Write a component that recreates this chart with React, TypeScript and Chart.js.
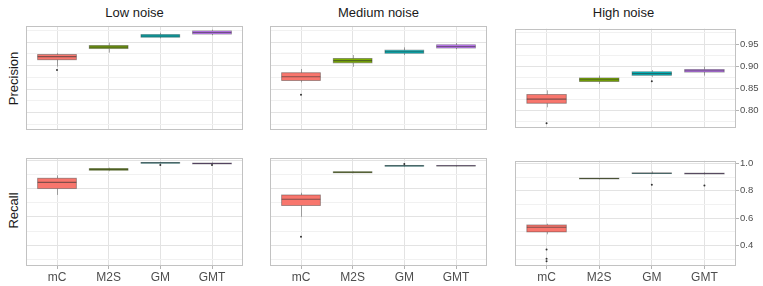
import React, { useEffect, useRef } from 'react';
import { Chart, registerables } from 'chart.js';
Chart.register(...registerables);

const methods = ['mC', 'M2S', 'GM', 'GMT'];
const noiseLevels = ['Low noise', 'Medium noise', 'High noise'];
const metrics = ['Precision', 'Recall'];
const methodColors = ['#F8766D', '#7CAE00', '#00BFC4', '#C77CFF'];

// each entry: [lower whisker, Q1, median, Q3, upper whisker]
const precisionLow = [
  [0.8979, 0.9125, 0.9191, 0.9236, 0.927],
  [0.9276, 0.9363, 0.9395, 0.9429, 0.9488],
  [0.9581, 0.9607, 0.9633, 0.9661, 0.97],
  [0.9647, 0.9673, 0.9706, 0.974, 0.9766],
];
const precisionMedium = [
  [0.8642, 0.8682, 0.8761, 0.8848, 0.8927],
  [0.8973, 0.9058, 0.9106, 0.9151, 0.9225],
  [0.9225, 0.9264, 0.9296, 0.933, 0.9389],
  [0.9349, 0.9375, 0.9409, 0.9443, 0.9482],
];
const precisionHigh = [
  [0.8075, 0.8166, 0.8259, 0.8364, 0.8457],
  [0.8602, 0.8656, 0.8695, 0.8735, 0.879],
  [0.8755, 0.8795, 0.8834, 0.8874, 0.8913],
  [0.879, 0.8868, 0.8897, 0.8927, 0.8993],
];
const recallLow = [
  [0.757, 0.8023, 0.8462, 0.8758, 0.8964],
  [0.926, 0.9328, 0.939, 0.9445, 0.9513],
  [0.98, 0.983, 0.9857, 0.988, 0.99],
  [0.975, 0.978, 0.981, 0.984, 0.987],
];
const recallMedium = [
  [0.601, 0.6814, 0.7267, 0.757, 0.7727],
  [0.912, 0.915, 0.919, 0.922, 0.925],
  [0.959, 0.962, 0.965, 0.967, 0.97],
  [0.96, 0.963, 0.965, 0.967, 0.969],
];
const recallHigh = [
  [0.4822, 0.4999, 0.5344, 0.5509, 0.5598],
  [0.884, 0.887, 0.8895, 0.892, 0.894],
  [0.922, 0.926, 0.9287, 0.931, 0.9424],
  [0.92, 0.923, 0.926, 0.929, 0.935],
];

const precisionLowOutliers = [[0.8907], [], [], []];
const precisionMediumOutliers = [[0.8378], [], [], []];
const precisionHighOutliers = [[0.7718], [], [0.866], []];
const recallLowOutliers = [[], [], [0.9699], [0.9699]];
const recallMediumOutliers = [[0.4589], [], [0.9767], []];
const recallHighOutliers = [[0.3723, 0.3037, 0.2851], [], [0.8435], [0.8394]];

const precisionRange = [0.7625, 0.9845];
const recallRange = [0.251, 1.02];
const precisionMajorTicks = [0.8, 0.85, 0.9, 0.95];
const precisionMinorTicks = [0.775, 0.825, 0.875, 0.925, 0.975];
const recallMajorTicks = [0.4, 0.6, 0.8, 1.0];
const recallMinorTicks = [0.3, 0.5, 0.7, 0.9];

const FONT = '"Liberation Sans", Arial, Helvetica, sans-serif';
const PANEL_W = 225;
const PANEL_H = 112;
const COL_LEFT = [22, 266, 511];
const ROW_TOP = [22, 154];
const AXIS_W = 27;
const XAXIS_H = 20;
const BOX_HALF = 0.375;

type PanelProps = {
  stats: number[][];
  outliers: number[][];
  range: number[];
  majors: number[];
  minors: number[];
  decimals: number;
  showX: boolean;
  showY: boolean;
  left: number;
  top: number;
};

const isMajor = (v: number, majors: number[]) => majors.some((m) => Math.abs(m - v) < 1e-6);

const boxPlugin = {
  id: 'boxParts',
  beforeDatasetsDraw(chart: any) {
    const stats: number[][] = chart.config.options.plugins.boxParts.stats;
    const xs = chart.scales.x;
    const ys = chart.scales.y;
    const ctx = chart.ctx;
    ctx.save();
    ctx.beginPath();
    ctx.rect(chart.chartArea.left, chart.chartArea.top, chart.chartArea.width, chart.chartArea.height);
    ctx.clip();
    ctx.strokeStyle = 'rgba(51,51,51,0.4)';
    ctx.lineWidth = 1;
    stats.forEach((s, i) => {
      const x = Math.round(xs.getPixelForValue(i + 1)) + 0.5;
      ctx.beginPath();
      ctx.moveTo(x, ys.getPixelForValue(s[0]));
      ctx.lineTo(x, ys.getPixelForValue(s[1]));
      ctx.moveTo(x, ys.getPixelForValue(s[3]));
      ctx.lineTo(x, ys.getPixelForValue(s[4]));
      ctx.stroke();
    });
    ctx.restore();
  },
  afterDatasetsDraw(chart: any) {
    const stats: number[][] = chart.config.options.plugins.boxParts.stats;
    const xs = chart.scales.x;
    const ys = chart.scales.y;
    const ctx = chart.ctx;
    ctx.save();
    stats.forEach((s, i) => {
      const x0 = xs.getPixelForValue(i + 1 - BOX_HALF);
      const x1 = xs.getPixelForValue(i + 1 + BOX_HALF);
      const yTop = ys.getPixelForValue(s[3]);
      const yBot = ys.getPixelForValue(s[1]);
      ctx.strokeStyle = 'rgba(51,51,51,0.45)';
      ctx.lineWidth = 0.9;
      ctx.strokeRect(x0, yTop, x1 - x0, yBot - yTop);
      const y = ys.getPixelForValue(s[2]);
      ctx.strokeStyle = 'rgba(51,51,51,0.6)';
      ctx.lineWidth = 1.1;
      ctx.beginPath();
      ctx.moveTo(x0, y);
      ctx.lineTo(x1, y);
      ctx.stroke();
    });
    const a = chart.chartArea;
    ctx.strokeStyle = '#c2c2c2';
    ctx.lineWidth = 1;
    ctx.strokeRect(Math.round(a.left) + 0.5, Math.round(a.top) + 0.5, Math.round(a.width) - 1, Math.round(a.height) - 1);
    ctx.restore();
  },
};

function Panel(p: PanelProps) {
  const ref = useRef<HTMLCanvasElement>(null);
  const w = PANEL_W + (p.showY ? AXIS_W : 0);
  const h = PANEL_H + (p.showX ? XAXIS_H : 0);
  useEffect(() => {
    if (!ref.current) return;
    const chart = new Chart(ref.current, {
      type: 'bar',
      data: {
        datasets: [
          {
            type: 'bar',
            data: p.stats.map((s, i) => ({ x: i + 1, y: [s[1], s[3]] })) as any,
            backgroundColor: methodColors,
            borderWidth: 0,
            categoryPercentage: 1,
            barPercentage: BOX_HALF * 2,
            order: 2,
          } as any,
          {
            type: 'scatter',
            data: p.outliers.flatMap((arr, i) => arr.map((v) => ({ x: i + 1, y: v }))),
            pointRadius: 1,
            backgroundColor: '#333333',
            borderWidth: 0,
            order: 1,
          } as any,
        ],
      },
      options: {
        animation: false,
        responsive: false,
        events: [],
        layout: { padding: 0 },
        plugins: {
          legend: { display: false },
          tooltip: { enabled: false },
          boxParts: { stats: p.stats },
        } as any,
        scales: {
          x: {
            type: 'linear',
            min: 0.4,
            max: 4.6,
            offset: false,
            afterBuildTicks: (s: any) => {
              s.ticks = methods.map((_, i) => ({ value: i + 1 }));
            },
            afterFit: (s: any) => {
              s.height = p.showX ? XAXIS_H : 0;
            },
            ticks: {
              display: p.showX,
              autoSkip: false,
              maxRotation: 0,
              padding: 1,
              color: '#4d4d4d',
              font: { family: FONT, size: 12 },
              callback: (v: any) => methods[Math.round(Number(v)) - 1] ?? '',
            },
            grid: {
              offset: false,
              color: '#e3e3e3',
              lineWidth: 1,
              drawTicks: p.showX,
              tickLength: 3,
              tickColor: '#b3b3b3',
            },
            border: { display: false },
          },
          y: {
            type: 'linear',
            position: 'right',
            min: p.range[0],
            max: p.range[1],
            beginAtZero: false,
            afterBuildTicks: (s: any) => {
              s.ticks = [...p.majors, ...p.minors].sort((a, b) => a - b).map((v) => ({ value: v }));
            },
            afterFit: (s: any) => {
              s.width = p.showY ? AXIS_W : 0;
            },
            ticks: {
              display: p.showY,
              autoSkip: false,
              padding: 1,
              color: '#4d4d4d',
              font: { family: FONT, size: 9.5 },
              callback: (v: any) => (isMajor(Number(v), p.majors) ? Number(v).toFixed(p.decimals) : ''),
            },
            grid: {
              color: (c: any) => (c.tick && isMajor(c.tick.value, p.majors) ? '#e3e3e3' : '#f1f1f1'),
              lineWidth: 1,
              drawTicks: p.showY,
              tickLength: 3,
              tickColor: (c: any) => (c.tick && isMajor(c.tick.value, p.majors) ? '#b3b3b3' : 'rgba(0,0,0,0)'),
            },
            border: { display: false },
          },
        },
      } as any,
      plugins: [boxPlugin],
    });
    return () => chart.destroy();
  }, []);
  return (
    <canvas
      ref={ref}
      width={w}
      height={h}
      style={{ position: 'absolute', left: p.left, top: p.top, width: w, height: h }}
    />
  );
}

export default function App() {
  const precisionStats = [precisionLow, precisionMedium, precisionHigh];
  const recallStats = [recallLow, recallMedium, recallHigh];
  const precisionOut = [precisionLowOutliers, precisionMediumOutliers, precisionHighOutliers];
  const recallOut = [recallLowOutliers, recallMediumOutliers, recallHighOutliers];
  return (
    <div
      style={{
        position: 'fixed',
        left: 0,
        top: 0,
        width: 763,
        height: 286,
        background: '#ffffff',
        fontFamily: FONT,
        overflow: 'hidden',
      }}
    >
      {noiseLevels.map((n, c) => (
        <div
          key={n}
          style={{
            position: 'absolute',
            left: COL_LEFT[c],
            top: 6,
            width: PANEL_W,
            textAlign: 'center',
            fontSize: 13,
            lineHeight: '13px',
            color: '#1a1a1a',
            whiteSpace: 'nowrap',
          }}
        >
          {n}
        </div>
      ))}
      {metrics.map((m, r) => (
        <div
          key={m}
          style={{
            position: 'absolute',
            left: 12.8 - PANEL_H / 2,
            top: ROW_TOP[r] + PANEL_H / 2 - 6.5,
            width: PANEL_H,
            height: 13,
            textAlign: 'center',
            fontSize: 13,
            lineHeight: '13px',
            color: '#1a1a1a',
            transform: 'rotate(-90deg)',
            whiteSpace: 'nowrap',
          }}
        >
          {m}
        </div>
      ))}
      {noiseLevels.map((n, c) => (
        <Panel
          key={'p' + n}
          stats={precisionStats[c]}
          outliers={precisionOut[c]}
          range={precisionRange}
          majors={precisionMajorTicks}
          minors={precisionMinorTicks}
          decimals={2}
          showX={false}
          showY={c === 2}
          left={COL_LEFT[c]}
          top={ROW_TOP[0]}
        />
      ))}
      {noiseLevels.map((n, c) => (
        <Panel
          key={'r' + n}
          stats={recallStats[c]}
          outliers={recallOut[c]}
          range={recallRange}
          majors={recallMajorTicks}
          minors={recallMinorTicks}
          decimals={1}
          showX={true}
          showY={c === 2}
          left={COL_LEFT[c]}
          top={ROW_TOP[1]}
        />
      ))}
    </div>
  );
}
